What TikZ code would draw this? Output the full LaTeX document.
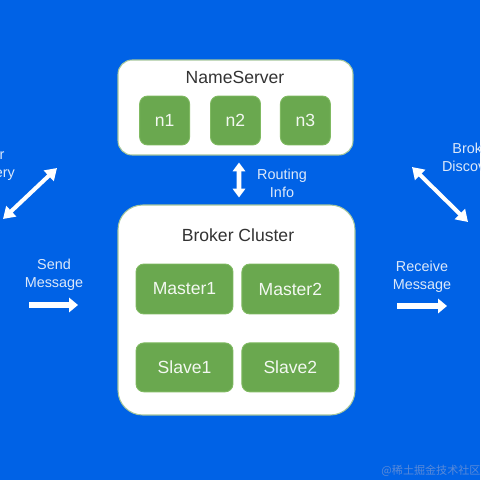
\documentclass[tikz,border=0pt]{standalone}
\usepackage{fontspec}
\setmainfont{Liberation Sans}
\newfontfamily\cjkmark{Noto Sans CJK SC}
\usetikzlibrary{positioning,arrows.meta}
\definecolor{mqblue}{HTML}{0062E6}
\definecolor{mqgreen}{HTML}{6AA84F}
\definecolor{mqgreenline}{HTML}{80BA62}
\definecolor{mqframe}{HTML}{A6C79C}
\definecolor{mqtext}{HTML}{333333}
\definecolor{mqlabel}{HTML}{DCE8F9}
\definecolor{mqmark}{HTML}{5A8AD8}

\begin{document}
\begin{tikzpicture}[
  x=0.02cm, y=-0.02cm,
  panel/.style={draw=mqframe, line width=0.6pt, fill=white},
  cell/.style={draw=mqgreenline, line width=0.5pt, fill=mqgreen, text=white!92!mqgreen,
    rounded corners=4.5pt, font=\fontsize{10}{12}\selectfont},
  title/.style={text=mqtext, font=\fontsize{10}{12}\selectfont},
  lbl/.style={text=mqlabel, align=center, font=\fontsize{8.2}{10.3}\selectfont},
  biflow/.style={draw=white, line width=2.3pt,
    {Triangle[length=6.5pt,width=8pt]}-{Triangle[length=6.5pt,width=8pt]}},
  flow/.style={draw=white, line width=3.2pt, -{Triangle[length=5pt,width=8pt]}},
]

% canvas
\useasboundingbox (0,0) rectangle (480,480);
\clip (0,0) rectangle (480,480);
\fill[mqblue] (0,0) rectangle (480,480);

% ============ NameServer ============
\node[panel, rounded corners=8pt, minimum width=4.7cm, minimum height=1.9cm] (ns) at (235.5,107.5) {};
\node[title] (nstitle) at (235,77) {NameServer};
\node[cell, minimum width=1cm, minimum height=0.98cm] (n2) at (235.5,120.5) {n2};
\node[cell, minimum width=1cm, minimum height=0.98cm, left=0.4cm of n2] (n1) {n1};
\node[cell, minimum width=1cm, minimum height=0.98cm, right=0.38cm of n2] (n3) {n3};

% ============ Broker Cluster ============
\node[panel, rounded corners=14pt, minimum width=4.74cm, minimum height=4.2cm] (bc) at (236.5,310) {};
\node[title] (bctitle) at (238,235) {Broker Cluster};
\node[cell, minimum width=1.94cm, minimum height=1cm] (m1) at (184.5,289) {Master1};
\node[cell, minimum width=1.94cm, minimum height=1cm, right=0.16cm of m1] (m2) {Master2};
\node[cell, minimum width=1.94cm, minimum height=0.98cm, below=0.56cm of m1] (s1) {Slave1};
\node[cell, minimum width=1.94cm, minimum height=0.98cm, below=0.56cm of m2] (s2) {Slave2};

% routing info between the two
\draw[biflow, {Triangle[length=5pt,width=7pt]}-{Triangle[length=5pt,width=7pt]}, line width=2.6pt,
  shorten <=0.14cm, shorten >=0.14cm]
  ([xshift=0.07cm]ns.south) -- ([xshift=0.05cm]bc.north);
\node[lbl] (route) at (282,183) {Routing\\Info};

% ============ producer side (left) ============
\node[lbl] (pdisc) at (-16.7,165) {Broker\\Discovery};
\coordinate (pa) at (3,219);
\coordinate (pb) at (57,168);
\draw[biflow] (pa) -- (pb);
\node[lbl] (send) at (54,275) {Send\\Message};
\coordinate (sa) at (29,305);
\coordinate (sb) at (78,305);
\draw[flow] (sa) -- (sb);

% ============ consumer side (right) ============
\node[lbl] (cdisc) at (473.7,159) {Broker\\Discovery};
\coordinate (ca) at (412,167);
\coordinate (cb) at (468,222);
\draw[biflow] (ca) -- (cb);
\node[lbl] (recv) at (422,277) {Receive\\Message};
\coordinate (ra) at (397,306);
\coordinate (rb) at (447,306);
\draw[flow] (ra) -- (rb);

% watermark
\node[text=mqmark, font=\cjkmark\fontsize{6.3}{7}\selectfont] (mark) at (431,471) {@稀土掘金技术社区};

\end{tikzpicture}
\end{document}
